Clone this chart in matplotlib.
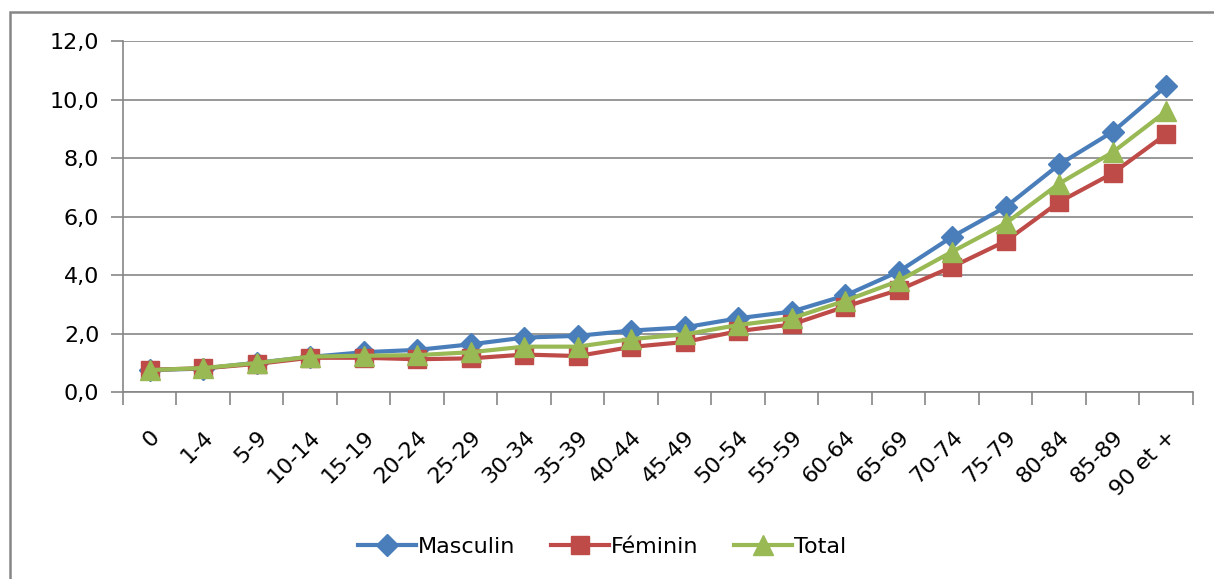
import matplotlib.pyplot as plt
from matplotlib.patches import Rectangle
import matplotlib.transforms as mtransforms
import numpy as np

categories = ['0', '1-4', '5-9', '10-14', '15-19', '20-24', '25-29', '30-34', '35-39',
              '40-44', '45-49', '50-54', '55-59', '60-64', '65-69', '70-74', '75-79',
              '80-84', '85-89', '90 et +']
masculin = [0.75, 0.80, 1.00, 1.20, 1.36, 1.44, 1.63, 1.86, 1.92, 2.10, 2.21, 2.52,
            2.75, 3.30, 4.12, 5.31, 6.33, 7.78, 8.90, 10.46]
feminin = [0.76, 0.81, 0.96, 1.17, 1.17, 1.12, 1.15, 1.28, 1.23, 1.54, 1.71, 2.08,
           2.31, 2.92, 3.49, 4.28, 5.16, 6.50, 7.48, 8.82]
total = [0.75, 0.82, 0.99, 1.21, 1.24, 1.26, 1.36, 1.55, 1.55, 1.81, 1.97, 2.29,
         2.52, 3.12, 3.80, 4.80, 5.77, 7.13, 8.20, 9.60]

grey = '#868686'
fig = plt.figure(figsize=(12.14, 5.79), dpi=100)
ax = fig.add_axes([0.1013, 0.323, 0.8814, 0.606])

x = np.arange(len(categories))
ax.plot(x, masculin, color='#4A7EBB', lw=3, marker='D', ms=11, label='Masculin')
ax.plot(x, feminin, color='#BE4B48', lw=3, marker='s', ms=13, label='Féminin')
ax.plot(x, total, color='#98B954', lw=3, marker='^', ms=14, label='Total')

ax.set_xlim(-0.5, len(categories) - 0.5)
ax.set_ylim(0, 12)
ax.set_yticks(np.arange(0, 12.1, 2))
ax.set_yticklabels([f'{v:.1f}'.replace('.', ',') for v in np.arange(0, 12.1, 2)], fontsize=16)
ax.yaxis.grid(True, color=grey, lw=1.2)
ax.set_axisbelow(True)

ax.set_xticks(x)
ax.set_xticklabels(categories, rotation=45, ha='right', va='top',
                   rotation_mode='anchor', fontsize=16)
shift = mtransforms.ScaledTranslation(-4 / 100, 0, fig.dpi_scale_trans)
for lab in ax.get_xticklabels():
    lab.set_transform(lab.get_transform() + shift)
ax.set_xticks(np.arange(-0.5, len(categories)), minor=True)
ax.tick_params(axis='x', which='major', length=0, pad=25)
ax.tick_params(axis='x', which='minor', length=9, width=1.2, color=grey)
ax.tick_params(axis='y', length=9, width=1.2, color=grey, pad=8)

for s in ['top', 'right']:
    ax.spines[s].set_visible(False)
for s in ['left', 'bottom']:
    ax.spines[s].set_color(grey)
    ax.spines[s].set_linewidth(1.2)

fig.legend(loc='center', bbox_to_anchor=(0.496, 0.055), ncol=3, frameon=False,
           fontsize=16, handlelength=2.6, columnspacing=1.6, handletextpad=0.1)

fig.patches.append(Rectangle((10 / 1214, -0.1), 1.2, 1 - 12 / 579 + 0.1,
                             transform=fig.transFigure, fill=False,
                             edgecolor=grey, lw=1.8))

fig.savefig('out.png', dpi=100)
